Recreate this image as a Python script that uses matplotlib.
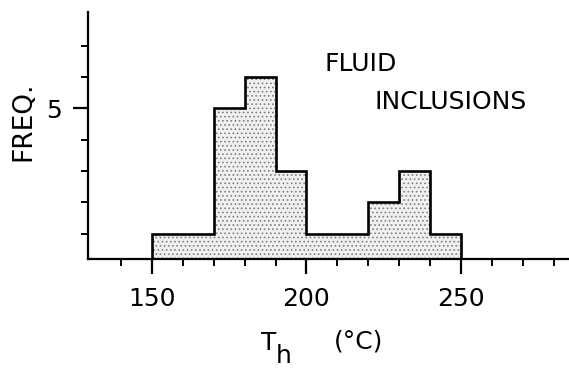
import matplotlib
matplotlib.use("Agg")
import matplotlib.pyplot as plt
from matplotlib.ticker import FixedLocator

# Data
bin_edges = [150, 170, 180, 190, 200, 220, 230, 240, 250]
counts = [1, 5, 6, 3, 1, 2, 3, 1]
x_major = [150, 200, 250]
x_minor = [140, 160, 170, 180, 190, 210, 220, 230, 240, 260, 270, 280]
y_major = [5]
y_minor = [1, 2, 3, 4, 6, 7]

plt.rcParams['hatch.linewidth'] = 0.7

W, H = 569, 368
fig = plt.figure(figsize=(W / 100, H / 100), dpi=100)
ax = fig.add_axes([88 / W, (H - 259) / H, (W - 88) / W, (259 - 12) / H])

# stipple fill
ax.stairs(counts, bin_edges, fill=True, facecolor='#f0f0f0', edgecolor='#808080',
          hatch='....', linewidth=0)
# outline
ax.stairs(counts, bin_edges, baseline=0, fill=False, color='black', linewidth=1.9)

ax.set_xlim(129.3, 285)
ax.set_ylim(0.19, 8.08)

for s in ['top', 'right']:
    ax.spines[s].set_visible(False)
for s in ['left', 'bottom']:
    ax.spines[s].set_linewidth(1.6)

ax.xaxis.set_major_locator(FixedLocator(x_major))
ax.xaxis.set_minor_locator(FixedLocator(x_minor))
ax.yaxis.set_major_locator(FixedLocator(y_major))
ax.yaxis.set_minor_locator(FixedLocator(y_minor))

ax.tick_params(axis='x', which='major', direction='out', length=11, width=1.6,
               labelsize=18, pad=9)
ax.tick_params(axis='x', which='minor', direction='out', length=5, width=1.4)
ax.tick_params(axis='y', which='major', direction='out', length=11, width=1.6,
               labelsize=18, pad=8)
ax.tick_params(axis='y', which='minor', direction='out', length=5, width=1.4)

ax.set_xticklabels([str(v) for v in x_major])
ax.set_yticklabels([str(v) for v in y_major])

# annotations
ax.text(206, 6.42, 'FLUID', fontsize=18, ha='left', va='center')
ax.text(222, 5.2, 'INCLUSIONS', fontsize=18, ha='left', va='center')

# axis labels
fig.text(23 / W, 1 - 121 / H, 'FREQ.', rotation=90, fontsize=19, ha='center', va='center')
fig.text(261 / W, 1 - 343 / H, 'T', fontsize=18, ha='left', va='center')
fig.text(276 / W, 1 - 356 / H, 'h', fontsize=18, ha='left', va='center')
fig.text(334 / W, 1 - 341 / H, '(°C)', fontsize=18, ha='left', va='center')

fig.savefig('out.png', dpi=100)
